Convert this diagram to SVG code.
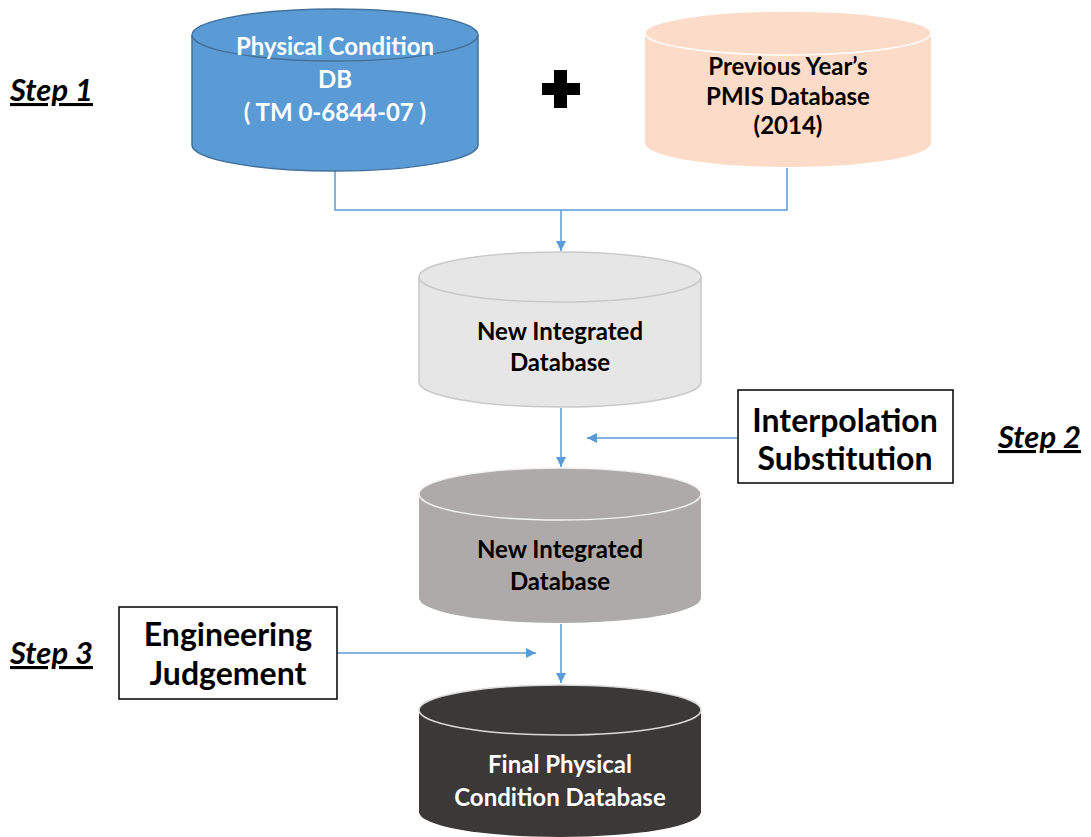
<svg xmlns="http://www.w3.org/2000/svg" width="1091" height="837" viewBox="0 0 1091 837">
<style>
  .t { font-family: Lato, "Liberation Sans", sans-serif; font-weight: bold; text-anchor: middle; }
  .cyl { font-size: 24px; }
  .box { font-size: 32px; }
  .step { font-family: Lato, "Liberation Sans", sans-serif; font-weight: bold; font-style: italic; font-size: 31px; text-decoration: underline; fill: #000; }
  .conn { fill: none; stroke: #5b9bd5; stroke-width: 1.5; }
</style>
<defs>
  <marker id="arr" viewBox="0 0 10 10" refX="10" refY="5" markerWidth="10" markerHeight="10" markerUnits="userSpaceOnUse" orient="auto">
    <path d="M0,0 L10,5 L0,10 z" fill="#5b9bd5"/>
  </marker>
</defs>
<rect width="1091" height="837" fill="#fff"/>

<g id="connectors">
  <path class="conn" d="M335,170 V210 H787 V168"/>
  <path class="conn" d="M561,210 V251" marker-end="url(#arr)"/>
  <path class="conn" d="M561,408 V467" marker-end="url(#arr)"/>
  <path class="conn" d="M737,438 H587" marker-end="url(#arr)"/>
  <path class="conn" d="M561,624 V683" marker-end="url(#arr)"/>
  <path class="conn" d="M337,653 H536" marker-end="url(#arr)"/>
</g>

<g id="physical-condition-db">
  <path d="M192,35 V145 A143,26 0 0 0 478,145 V35" fill="#5b9bd5" stroke="#41719c" stroke-width="1.5"/>
  <ellipse cx="335" cy="35" rx="143" ry="26" fill="#5b9bd5" stroke="#41719c" stroke-width="1.5"/>
  <text class="t cyl" fill="#fff" x="335" y="55">Physical Condition</text>
  <text class="t cyl" fill="#fff" x="335" y="88">DB</text>
  <text class="t cyl" fill="#fff" x="335" y="121">( TM 0-6844-07 )</text>
</g>

<g id="plus">
  <rect x="542" y="83" width="38" height="12" fill="#000"/>
  <rect x="554" y="70" width="13" height="38" fill="#000"/>
</g>

<g id="pmis-db">
  <path d="M645,33 V143 A143,24 0 0 0 931,143 V33" fill="#fcdcc8"/>
  <ellipse cx="788" cy="33" rx="143" ry="22" fill="#fcdcc8" stroke="#fff" stroke-width="1.5"/>
  <text class="t cyl" fill="#000" x="788" y="75">Previous Year’s</text>
  <text class="t cyl" fill="#000" x="788" y="105">PMIS Database</text>
  <text class="t cyl" fill="#000" x="788" y="134">(2014)</text>
</g>

<g id="new-integrated-db-1">
  <path d="M419,277 V382 A141,25 0 0 0 701,382 V277" fill="#e7e6e6" stroke="#c9c9c9" stroke-width="1.5"/>
  <ellipse cx="560" cy="277" rx="141" ry="25" fill="#e7e6e6" stroke="#c9c9c9" stroke-width="1.5"/>
  <text class="t cyl" fill="#000" x="560" y="340">New Integrated</text>
  <text class="t cyl" fill="#000" x="560" y="371">Database</text>
</g>

<g id="interpolation-box">
  <rect x="738" y="390" width="215" height="93" fill="#fff" stroke="#000" stroke-width="1.5"/>
  <text class="t box" fill="#000" x="845" y="432">Interpolation</text>
  <text class="t box" fill="#000" x="845" y="470">Substitution</text>
</g>

<g id="new-integrated-db-2">
  <path d="M419,494 V598 A141,25 0 0 0 701,598 V494" fill="#aeaaaa"/>
  <ellipse cx="560" cy="494" rx="141" ry="26" fill="#aeaaaa" stroke="#f2f2f2" stroke-width="1.5"/>
  <text class="t cyl" fill="#000" x="560" y="558">New Integrated</text>
  <text class="t cyl" fill="#000" x="560" y="590">Database</text>
</g>

<g id="engineering-box">
  <rect x="119" y="607" width="218" height="92" fill="#fff" stroke="#000" stroke-width="1.5"/>
  <text class="t box" fill="#000" x="228" y="646">Engineering</text>
  <text class="t box" fill="#000" x="228" y="685">Judgement</text>
</g>

<g id="final-db">
  <path d="M419,710 V812 A141,25 0 0 0 701,812 V710" fill="#3b3838"/>
  <ellipse cx="560" cy="710" rx="141" ry="25" fill="#3b3838" stroke="#d9d9d9" stroke-width="1.5"/>
  <text class="t cyl" fill="#fff" x="560" y="773">Final Physical</text>
  <text class="t cyl" fill="#fff" x="560" y="806">Condition Database</text>
</g>

<g id="steps">
  <text class="step" x="10" y="101">Step 1</text>
  <text class="step" x="998" y="448">Step 2</text>
  <text class="step" x="10" y="664">Step 3</text>
</g>
</svg>
